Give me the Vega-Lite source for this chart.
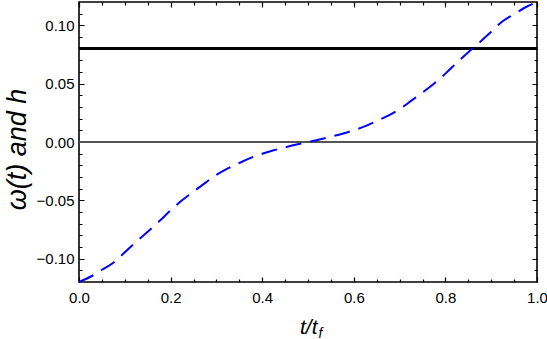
{
  "$schema": "https://vega.github.io/schema/vega-lite/v6.json",
  "width": 458,
  "height": 280,
  "autosize": "none",
  "padding": {"left": 79, "top": 2, "right": 10, "bottom": 57},
  "background": "white",
  "config": {
    "font": "Liberation Sans",
    "view": {"stroke": "black", "strokeWidth": 1.6},
    "axis": {"domain": false, "labelFont": "Liberation Sans", "labelFontSize": 15, "labelColor": "black", "titleColor": "black", "titleFont": "Liberation Sans", "titleFontWeight": "normal", "gridColor": "black", "gridOpacity": 1, "gridWidth": 1.2}
  },
  "data": {"values": [
    {"t": 0.000, "w": -0.1200}, {"t": 0.025, "w": -0.1155}, {"t": 0.050, "w": -0.1095}, {"t": 0.075, "w": -0.1035},
    {"t": 0.100, "w": -0.0945}, {"t": 0.125, "w": -0.0855}, {"t": 0.150, "w": -0.0770}, {"t": 0.175, "w": -0.0680},
    {"t": 0.200, "w": -0.0586}, {"t": 0.225, "w": -0.0500}, {"t": 0.250, "w": -0.0425}, {"t": 0.275, "w": -0.0352},
    {"t": 0.300, "w": -0.0282}, {"t": 0.325, "w": -0.0226}, {"t": 0.350, "w": -0.0180}, {"t": 0.375, "w": -0.0136},
    {"t": 0.400, "w": -0.0101}, {"t": 0.425, "w": -0.0071}, {"t": 0.450, "w": -0.0046}, {"t": 0.475, "w": -0.0022},
    {"t": 0.500, "w": 0.0000},
    {"t": 0.525, "w": 0.0022}, {"t": 0.550, "w": 0.0046}, {"t": 0.575, "w": 0.0071}, {"t": 0.600, "w": 0.0101},
    {"t": 0.625, "w": 0.0136}, {"t": 0.650, "w": 0.0180}, {"t": 0.675, "w": 0.0226}, {"t": 0.700, "w": 0.0282},
    {"t": 0.725, "w": 0.0352}, {"t": 0.750, "w": 0.0425}, {"t": 0.775, "w": 0.0500}, {"t": 0.800, "w": 0.0586},
    {"t": 0.825, "w": 0.0680}, {"t": 0.850, "w": 0.0770}, {"t": 0.875, "w": 0.0855}, {"t": 0.900, "w": 0.0945},
    {"t": 0.925, "w": 0.1035}, {"t": 0.950, "w": 0.1095}, {"t": 0.975, "w": 0.1155}, {"t": 1.000, "w": 0.1200}
  ]},
  "layer": [
    {
      "mark": {"type": "rule", "color": "#555555", "strokeWidth": 1},
      "encoding": {"y": {"datum": 0, "type": "quantitative", "scale": {"domain": [-0.12, 0.12], "nice": false, "zero": false}, "axis": null}}
    },
    {
      "mark": {"type": "rule", "color": "black", "strokeWidth": 1.8},
      "encoding": {"y": {"datum": 0.08, "type": "quantitative", "axis": null}}
    },
    {
      "mark": {"type": "line", "color": "#0000ff", "strokeWidth": 2, "strokeDash": [16, 9], "interpolate": "monotone", "clip": true},
      "encoding": {
        "x": {"field": "t", "type": "quantitative", "scale": {"domain": [0, 1], "nice": false, "zero": false},
          "axis": {"orient": "bottom", "values": [0, 0.2, 0.4, 0.6, 0.8, 1], "format": ".1f", "ticks": false, "labelPadding": 8, "labelFlush": false, "labelOverlap": false,
            "grid": true, "gridDash": [5, 270, 5, 1000],
            "title": "t/t", "titleFontSize": 21, "titleFontStyle": "italic", "titleAlign": "right", "titleBaseline": "alphabetic", "titleX": 238, "titleY": 51}},
        "y": {"field": "w", "type": "quantitative", "scale": {"domain": [-0.12, 0.12], "nice": false, "zero": false},
          "axis": {"orient": "left", "values": [-0.1, -0.05, 0, 0.05, 0.1], "format": ".2f", "ticks": false, "labelPadding": 5, "labelOverlap": false,
            "grid": true, "gridDash": [5, 448, 5, 1000],
            "title": "ω(t) and h", "titleFontSize": 27, "titleFontStyle": "italic", "titleAngle": -90, "titleAlign": "center", "titleBaseline": "alphabetic", "titleX": -54, "titleY": 147}}
      }
    },
    {
      "mark": {"type": "point", "opacity": 0},
      "encoding": {
        "x": {"field": "t", "type": "quantitative", "axis": {"orient": "bottom", "values": [0.05, 0.1, 0.15, 0.25, 0.3, 0.35, 0.45, 0.5, 0.55, 0.65, 0.7, 0.75, 0.85, 0.9, 0.95], "labels": false, "ticks": false,
          "grid": true, "gridDash": [3, 274, 3, 1000],
          "title": "f", "titleFontSize": 14, "titleFontStyle": "italic", "titleAlign": "left", "titleBaseline": "alphabetic", "titleX": 239, "titleY": 55}},
        "y": {"field": "w", "type": "quantitative", "axis": {"orient": "left", "values": [-0.11, -0.09, -0.08, -0.07, -0.06, -0.04, -0.03, -0.02, -0.01, 0.01, 0.02, 0.03, 0.04, 0.06, 0.07, 0.08, 0.09, 0.11], "labels": false, "ticks": false,
          "grid": true, "gridDash": [3, 452, 3, 1000], "title": null}}
      }
    }
  ],
  "resolve": {"axis": {"x": "independent", "y": "independent"}}
}
